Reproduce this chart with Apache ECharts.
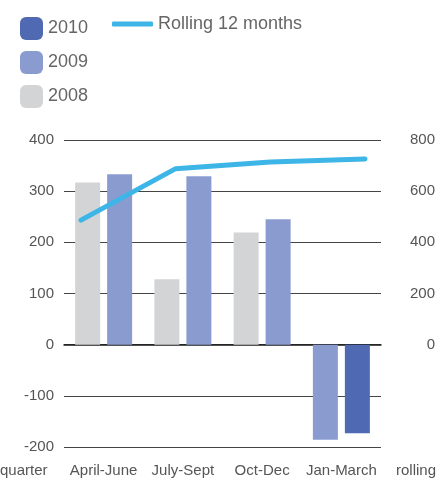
<!DOCTYPE html>
<html>
<head>
<meta charset="utf-8">
<script src="https://cdn.jsdelivr.net/npm/echarts@6/dist/echarts.min.js"></script>
<style>
  html, body { margin: 0; padding: 0; background: #fff; }
  #chart { width: 438px; height: 479px; }
</style>
</head>
<body>
<div id="chart"></div>
<script>
const quarters = ['April-June', 'July-Sept', 'Oct-Dec', 'Jan-March']
const y2008 = [317, 128, 219, null]
const y2009 = [333, 329, 245, -186]
const y2010 = [null, null, null, -173]
const rolling = [487, 688, 714, 726]
const leftTicks = { min: -200, max: 400, interval: 100 }
const rightTicks = { min: -400, max: 800, interval: 200 }

// 2009 sits in the left slot where there is no 2008 bar, else in the right slot
const y2009Left = y2009.map((v, i) => (y2008[i] == null ? v : null))
const y2009Right = y2009.map((v, i) => (y2008[i] == null ? null : v))

const font = 'Liberation Sans, Arial, sans-serif'
const txt = '#555'
const roundBox = 'path://M6,0 H17 A6,6 0 0 1 23,6 V17 A6,6 0 0 1 17,23 H6 A6,6 0 0 1 0,17 V6 A6,6 0 0 1 6,0 Z'

const chart = echarts.init(document.getElementById('chart'))
chart.setOption({
  animation: false,
  textStyle: { fontFamily: font },
  legend: [
    {
      data: ['2010', '2009', '2008'],
      orient: 'vertical',
      left: 15,
      top: 12,
      itemWidth: 23,
      itemHeight: 23,
      itemGap: 11,
      icon: roundBox,
      textStyle: { fontSize: 18, color: '#666', fontFamily: font, padding: [0, 0, 3, 0] }
    },
    {
      data: ['Rolling 12 months'],
      left: 107,
      top: 10,
      itemWidth: 41,
      itemHeight: 5,
      icon: 'roundRect',
      textStyle: { fontSize: 18, color: '#666', fontFamily: font, padding: [0, 0, 2, 0] }
    }
  ],
  grid: [
    { left: 64, right: 56, top: 140, height: 307 }, // bars
    { left: 81, right: 73, top: 140, height: 307 } // rolling line
  ],
  graphic: [
    { type: 'text', left: 0, top: 463, style: { text: 'quarter', fill: txt, font: '15px ' + font } },
    { type: 'text', left: 396, top: 463, style: { text: 'rolling', fill: txt, font: '15px ' + font } }
  ],
  xAxis: [
    {
      type: 'category',
      gridIndex: 0,
      data: quarters,
      position: 'bottom',
      axisLine: { show: false, onZero: false },
      axisTick: { show: false },
      axisLabel: { fontSize: 15, color: txt, margin: 16, interval: 0 }
    },
    {
      // zero line
      type: 'category',
      gridIndex: 0,
      data: quarters,
      axisLine: { show: true, onZero: true, lineStyle: { color: '#1a1a1a', width: 1.5 } },
      axisTick: { show: false },
      axisLabel: { show: false }
    },
    {
      type: 'category',
      gridIndex: 1,
      data: quarters,
      boundaryGap: false,
      show: false
    }
  ],
  yAxis: [
    {
      type: 'value',
      gridIndex: 0,
      min: leftTicks.min,
      max: leftTicks.max,
      interval: leftTicks.interval,
      axisLine: { show: false },
      axisTick: { show: false },
      axisLabel: { fontSize: 15, color: txt, margin: 10 },
      splitLine: { lineStyle: { color: '#454545', width: 1 } }
    },
    {
      type: 'value',
      gridIndex: 0,
      position: 'right',
      min: rightTicks.min,
      max: rightTicks.max,
      interval: rightTicks.interval,
      axisLine: { show: false },
      axisTick: { show: false },
      splitLine: { show: false },
      axisLabel: {
        fontSize: 15,
        color: txt,
        align: 'right',
        margin: 54,
        formatter: v => (v < 0 ? '' : v)
      }
    },
    {
      type: 'value',
      gridIndex: 1,
      min: rightTicks.min,
      max: rightTicks.max,
      show: false
    }
  ],
  series: [
    {
      name: '2008',
      type: 'bar',
      stack: 'left',
      data: y2008,
      barWidth: 25,
      barGap: '28%',
      itemStyle: { color: '#D3D4D6' }
    },
    {
      name: '2009',
      type: 'bar',
      stack: 'left',
      data: y2009Left,
      barWidth: 25,
      barGap: '28%',
      itemStyle: { color: '#8A9BCF' }
    },
    {
      name: '2009',
      type: 'bar',
      stack: 'right',
      data: y2009Right,
      barWidth: 25,
      barGap: '28%',
      itemStyle: { color: '#8A9BCF' }
    },
    {
      name: '2010',
      type: 'bar',
      stack: 'right',
      data: y2010,
      barWidth: 25,
      barGap: '28%',
      itemStyle: { color: '#4F69B3' }
    },
    {
      name: 'Rolling 12 months',
      type: 'line',
      xAxisIndex: 2,
      yAxisIndex: 2,
      data: rolling,
      symbol: 'none',
      itemStyle: { color: '#3DB5E6' },
      lineStyle: { color: '#3DB5E6', width: 5, cap: 'round', join: 'round' },
      z: 5
    }
  ]
})
</script>
</body>
</html>
